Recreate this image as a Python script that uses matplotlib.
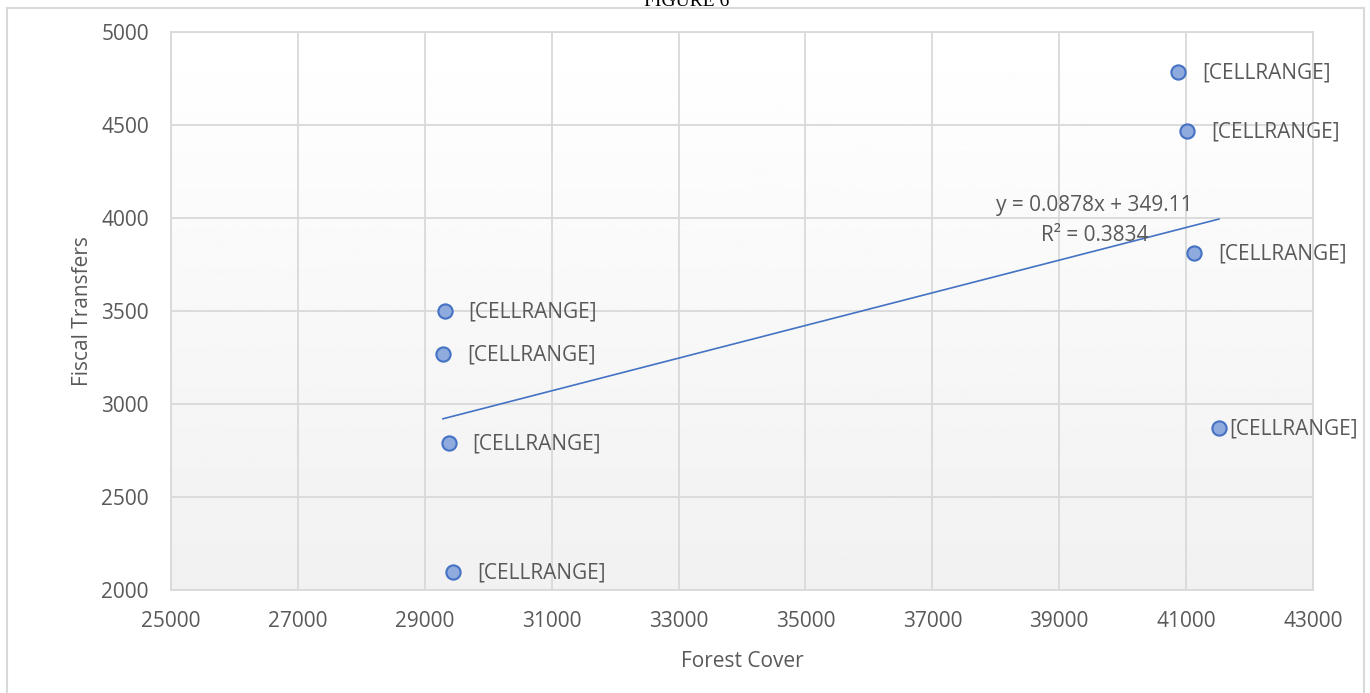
import matplotlib
matplotlib.use("Agg")
import matplotlib.pyplot as plt
import numpy as np
from matplotlib.lines import Line2D

forest_cover = [40872, 41014, 41124, 41518, 29319, 29287, 29382, 29445]
fiscal_transfers = [4785, 4468, 3812, 2871, 3500, 3269, 2790, 2097]
point_labels = ["[CELLRANGE]"] * 8
label_offsets_px = [24, 24, 24, 10, 23, 24, 23, 24]
x_ticks = list(range(25000, 43001, 2000))
y_ticks = list(range(2000, 5001, 500))
trend_text = "y = 0.0878x + 349.11\nR² = 0.3834"
title = "FIGURE 6"
x_title = "Forest Cover"
y_title = "Fiscal Transfers"

W, H, DPI = 1370, 693, 100
fig = plt.figure(figsize=(W / DPI, H / DPI), dpi=DPI)
plt.rcParams['font.family'] = ['Open Sans', 'DejaVu Sans']
txt_color = "#595959"
grid_color = "#d9d9d9"
FS = 15

ax = fig.add_axes([171 / W, 1 - 590 / H, (1313 - 171) / W, (590 - 32) / H])

# gradient background
grad = np.linspace(1.0, 0.945, 256).reshape(-1, 1)
ax.imshow(grad, cmap="gray", vmin=0, vmax=1, aspect="auto",
          extent=[0, 1, 0, 1], transform=ax.transAxes, zorder=0)

ax.set_xlim(25000, 43000)
ax.set_ylim(2000, 5000)
ax.set_xticks(x_ticks)
ax.set_yticks(y_ticks)
ax.grid(True, color=grid_color, linewidth=1.3, zorder=1)
ax.set_axisbelow(True)
for s in ax.spines.values():
    s.set_color(grid_color)
    s.set_linewidth(1.3)
ax.tick_params(axis="y", length=0, labelsize=FS, colors=txt_color, pad=16)
ax.tick_params(axis="x", length=0, labelsize=FS, colors=txt_color, pad=15)

# trend line (Excel linear trendline)
xs = np.array([min(forest_cover), max(forest_cover)])
ax.plot(xs, np.polyval([0.0878, 349.11], xs), color="#4472c4", lw=1.2, zorder=3)

ax.scatter(forest_cover, fiscal_transfers, s=105, facecolor="#8faadc",
           edgecolor="#4472c4", linewidth=1.5, zorder=4)

for x, y, lab, off in zip(forest_cover, fiscal_transfers, point_labels, label_offsets_px):
    ax.annotate(lab, (x, y), xytext=(off * 72 / DPI, -1), textcoords="offset points",
                ha="left", va="center", fontsize=FS, color=txt_color, zorder=5)

ax.text(39560, 3985, trend_text, ha="center", va="center", fontsize=FS,
        color=txt_color, linespacing=1.55, zorder=5, multialignment="center")

ax.set_xlabel(x_title, fontsize=FS, color=txt_color, labelpad=14)
ax.set_ylabel(y_title, fontsize=FS, color=txt_color, labelpad=6)

# chart border
fig.add_artist(Line2D([7 / W, 1364 / W], [1 - 8 / H, 1 - 8 / H], color=grid_color, lw=1.5))
fig.add_artist(Line2D([7 / W, 7 / W], [0, 1 - 8 / H], color=grid_color, lw=1.5))
fig.add_artist(Line2D([1364 / W, 1364 / W], [0, 1 - 8 / H], color=grid_color, lw=1.5))

fig.text(687 / W, 1 - 2 / H, title, ha="center", va="center", fontsize=14,
         family="Liberation Serif", color="black")

fig.savefig("out.png", dpi=DPI)
